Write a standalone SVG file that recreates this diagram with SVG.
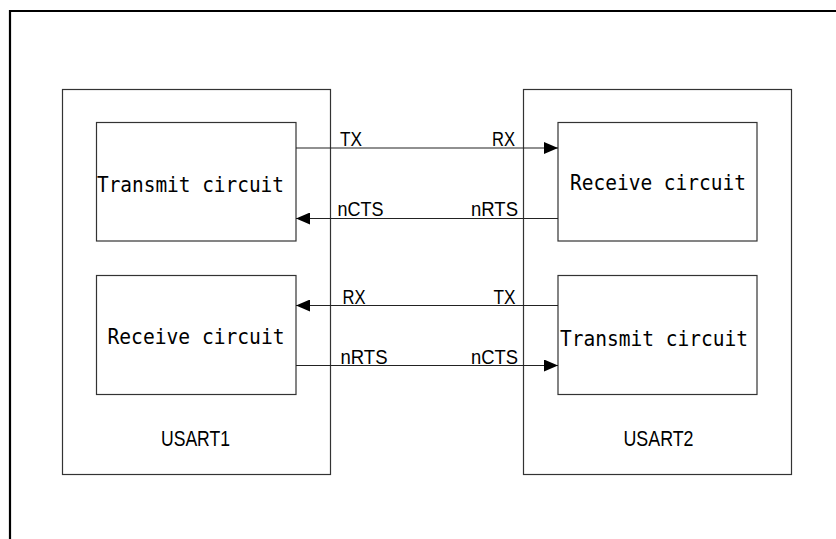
<svg xmlns="http://www.w3.org/2000/svg" width="836" height="539" viewBox="0 0 836 539">
<defs>
<style>
.frame{fill:none;stroke:#000;stroke-width:2.2}
.box{fill:#fff;stroke:#333;stroke-width:1.2}
.wire{fill:none;stroke:#222;stroke-width:1.2}
.lbl{font-family:"Liberation Sans",Arial,sans-serif;font-size:20.5px;fill:#000}
.big{font-size:22px}
.ctext{font-family:"DejaVu Sans Mono","Liberation Mono",monospace;font-size:21px;fill:#000}
</style>
<marker id="arr" viewBox="0 0 14 12" refX="14" refY="6" markerWidth="14" markerHeight="12" markerUnits="userSpaceOnUse" orient="auto">
<path d="M0,0 L14,6 L0,12 Z" fill="#000"/>
</marker>
</defs>
<rect width="836" height="539" fill="#fff"/>
<path class="frame" d="M10,545 V11 H845"/>
<g id="usart1">
<rect class="box" x="62.5" y="89.5" width="268" height="385"/>
<text class="lbl big" x="195.5" y="446" text-anchor="middle" textLength="69" lengthAdjust="spacingAndGlyphs">USART1</text>
</g>
<g id="usart2">
<rect class="box" x="523.5" y="89.5" width="268" height="385"/>
<text class="lbl big" x="658.5" y="446" text-anchor="middle" textLength="70" lengthAdjust="spacingAndGlyphs">USART2</text>
</g>
<g id="tx1">
<rect class="box" x="96.5" y="122.5" width="199.5" height="118.5"/>
<text class="ctext" x="97" y="191.5" textLength="187" lengthAdjust="spacingAndGlyphs">Transmit circuit</text>
</g>
<g id="rx1">
<rect class="box" x="96.5" y="275.5" width="199.5" height="119"/>
<text class="ctext" x="107.5" y="343.5" textLength="177" lengthAdjust="spacingAndGlyphs">Receive circuit</text>
</g>
<g id="rx2">
<rect class="box" x="558" y="122.5" width="199" height="118.5"/>
<text class="ctext" x="570" y="190" textLength="176" lengthAdjust="spacingAndGlyphs">Receive circuit</text>
</g>
<g id="tx2">
<rect class="box" x="558" y="275.5" width="199" height="119"/>
<text class="ctext" x="560" y="345.5" textLength="188" lengthAdjust="spacingAndGlyphs">Transmit circuit</text>
</g>
<g id="connectors">
<line class="wire" x1="296" y1="148" x2="558" y2="148" marker-end="url(#arr)"/>
<line class="wire" x1="558" y1="218.5" x2="296" y2="218.5" marker-end="url(#arr)"/>
<line class="wire" x1="558" y1="305.5" x2="296" y2="305.5" marker-end="url(#arr)"/>
<line class="wire" x1="296" y1="365.5" x2="558" y2="365.5" marker-end="url(#arr)"/>
<text class="lbl" x="340" y="145.5" textLength="22" lengthAdjust="spacingAndGlyphs">TX</text>
<text class="lbl" x="492" y="145.5" textLength="23" lengthAdjust="spacingAndGlyphs">RX</text>
<text class="lbl" x="337.5" y="216" textLength="46" lengthAdjust="spacingAndGlyphs">nCTS</text>
<text class="lbl" x="471" y="216" textLength="47" lengthAdjust="spacingAndGlyphs">nRTS</text>
<text class="lbl" x="342.5" y="303.5" textLength="23" lengthAdjust="spacingAndGlyphs">RX</text>
<text class="lbl" x="493.5" y="303.5" textLength="22" lengthAdjust="spacingAndGlyphs">TX</text>
<text class="lbl" x="340.5" y="363.5" textLength="47" lengthAdjust="spacingAndGlyphs">nRTS</text>
<text class="lbl" x="471" y="363.5" textLength="47" lengthAdjust="spacingAndGlyphs">nCTS</text>
</g>
</svg>
